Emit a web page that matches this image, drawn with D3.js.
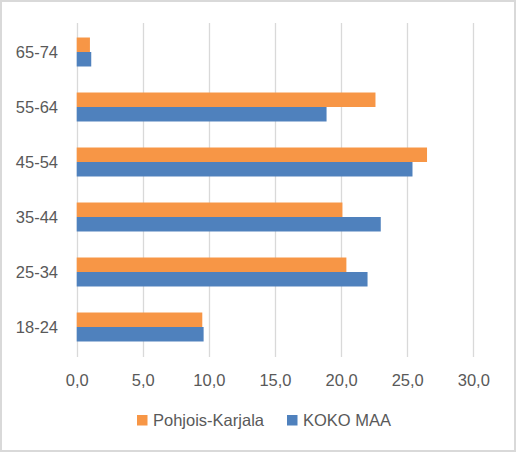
<!DOCTYPE html>
<html>
<head>
<meta charset="utf-8">
<script src="https://cdn.jsdelivr.net/npm/d3@7"></script>
<style>
  html, body { margin: 0; padding: 0; background: #fff; }
  svg text { font-family: "Liberation Sans", Arial, sans-serif; fill: #595959; }
</style>
</head>
<body>
<svg id="chart" width="516" height="452"></svg>
<script>
const categories = ["65-74", "55-64", "45-54", "35-44", "25-34", "18-24"];
const seriesNames = ["Pohjois-Karjala", "KOKO MAA"];
const pohjoisKarjala = [1.0, 22.6, 26.5, 20.1, 20.4, 9.5];
const kokoMaa = [1.1, 18.9, 25.4, 23.0, 22.0, 9.6];
const xTicks = [0, 5, 10, 15, 20, 25, 30];
const colors = ["#F79646", "#4F81BD"];

const svg = d3.select("#chart");
const W = 516, H = 452;
const margin = { left: 76.7, right: 42.7, top: 24.5, bottom: 97.5 };

svg.append("rect")
  .attr("x", 1).attr("y", 1).attr("width", W - 2).attr("height", H - 2)
  .attr("fill", "#fff").attr("stroke", "#d9d9d9").attr("stroke-width", 2);

const x = d3.scaleLinear().domain([0, 30]).range([margin.left, W - margin.right]);
const y = d3.scaleBand().domain(categories).range([margin.top, H - margin.bottom])
  .paddingInner(0.473).paddingOuter(0.2365);
const ySub = d3.scaleBand().domain(seriesNames).range([0, y.bandwidth()]);

// gridlines
svg.append("g").selectAll("line").data(xTicks).join("line")
  .attr("x1", d => Math.round(x(d)) + 0.5).attr("x2", d => Math.round(x(d)) + 0.5)
  .attr("y1", margin.top - 1.5).attr("y2", H - margin.bottom + 2.5)
  .attr("stroke", "#d9d9d9").attr("stroke-width", 1.3);

const series = [pohjoisKarjala, kokoMaa];
series.forEach((vals, si) => {
  svg.append("g").selectAll("rect").data(categories).join("rect")
    .attr("x", x(0))
    .attr("y", (c) => y(c) + ySub(seriesNames[si]))
    .attr("width", (c, i) => x(vals[i]) - x(0))
    .attr("height", ySub.bandwidth())
    .attr("fill", colors[si]);
});

// x axis labels
const fmt = d => d3.format(".1f")(d).replace(".", ",");
const xAxis = d3.axisBottom(x).tickValues(xTicks).tickFormat(fmt).tickSize(0).tickPadding(0);
const gx = svg.append("g").attr("transform", `translate(0,${386})`).call(xAxis);
gx.select(".domain").remove();
gx.selectAll("text").attr("dy", 0).attr("y", 0)
  .style("font-size", "16.5px").style("font-family", "Liberation Sans, Arial, sans-serif").attr("fill", "#595959");

// y axis labels
const yAxis = d3.axisLeft(y).tickSize(0).tickPadding(0);
const gy = svg.append("g").attr("transform", `translate(58,0)`).call(yAxis);
gy.select(".domain").remove();
gy.selectAll("text").attr("dy", "0.35em")
  .style("font-size", "16.5px").style("font-family", "Liberation Sans, Arial, sans-serif").attr("fill", "#595959");

// legend
const legendItems = [
  { name: seriesNames[0], color: colors[0], x: 137 },
  { name: seriesNames[1], color: colors[1], x: 287 }
];
const lg = svg.append("g");
legendItems.forEach(it => {
  lg.append("rect").attr("x", it.x).attr("y", 415).attr("width", 10.5).attr("height", 10.5).attr("fill", it.color);
  lg.append("text").attr("x", it.x + 16).attr("y", 426).style("font-size", "16.5px").text(it.name);
});
</script>
</body>
</html>
